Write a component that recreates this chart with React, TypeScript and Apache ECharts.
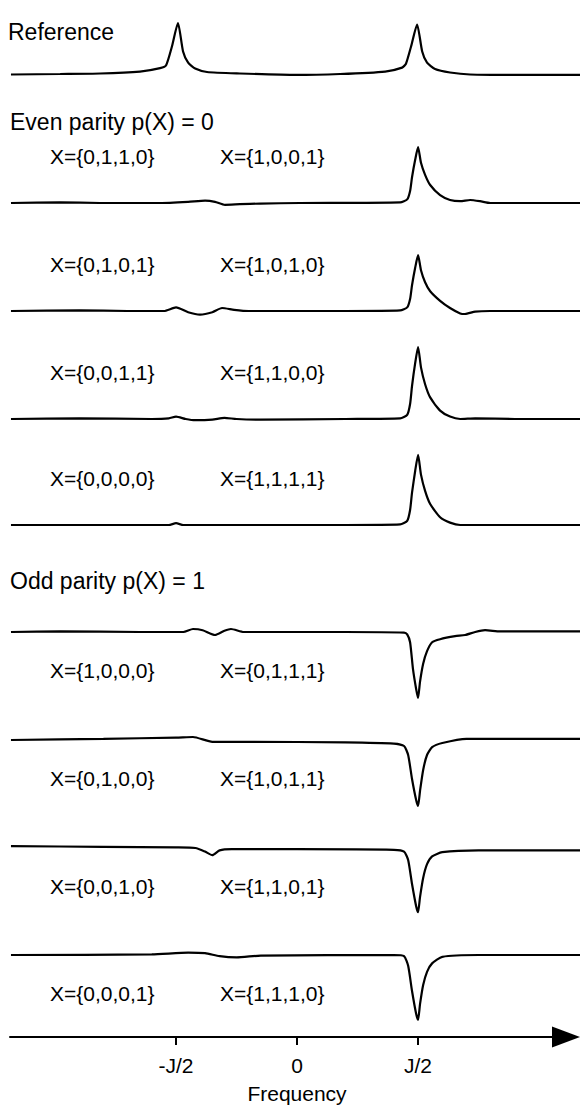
import React, { useEffect, useRef } from "react";
import * as echarts from "echarts";

// frequency in units of J, intensity normalised to the reference peak
const referenceTrace: [number, number][] = [
  [-1.182, -0.02], [-0.979, -0.01], [-0.814, 0.0], [-0.649, 0.04], [-0.566, 0.11], [-0.541, 0.17],
  [-0.517, 0.55], [-0.492, 1.03], [-0.471, 0.45], [-0.45, 0.22], [-0.421, 0.1], [-0.372, 0.03],
  [-0.236, 0.0], [-0.004, -0.03], [0.178, -0.01], [0.364, 0.04], [0.434, 0.12], [0.45, 0.2],
  [0.471, 0.55], [0.496, 1.0], [0.517, 0.45], [0.537, 0.22], [0.57, 0.09], [0.632, 0.02],
  [0.715, -0.02], [0.921, -0.03], [1.169, -0.03],
];

const even1: [number, number][] = [
  [-1.182, 0], [-0.979, 0.01], [-0.814, 0], [-0.566, 0], [-0.45, 0.02], [-0.38, 0.04], [-0.339, 0.02],
  [-0.298, -0.03], [-0.236, -0.02], [-0.153, -0.01], [0.012, 0], [0.426, 0.01], [0.455, 0.06],
  [0.467, 0.2], [0.475, 0.43], [0.488, 0.72], [0.5, 0.93], [0.512, 0.67], [0.529, 0.47], [0.55, 0.3],
  [0.591, 0.13], [0.632, 0.05], [0.674, 0.03], [0.715, 0.05], [0.756, 0.03], [0.798, 0], [1.169, 0],
];

const even2: [number, number][] = [
  [-1.182, 0], [-0.9, 0.01], [-0.7, 0], [-0.55, 0], [-0.5, 0.06], [-0.45, -0.02], [-0.401, -0.06],
  [-0.35, -0.02], [-0.31, 0.05], [-0.26, 0.02], [-0.2, 0], [0.2, 0], [0.426, 0.01], [0.455, 0.06],
  [0.467, 0.2], [0.475, 0.43], [0.488, 0.72], [0.5, 0.93], [0.512, 0.68], [0.529, 0.48], [0.55, 0.33],
  [0.591, 0.17], [0.632, 0.05], [0.674, -0.04], [0.694, -0.05], [0.736, -0.01], [0.798, 0], [1.169, 0],
];

const even3: [number, number][] = [
  [-1.182, 0], [-0.9, 0.01], [-0.6, 0], [-0.53, 0.01], [-0.5, 0.04], [-0.46, 0.0], [-0.42, -0.02],
  [-0.35, -0.01], [-0.3, 0.02], [-0.25, 0.0], [-0.15, -0.01], [0.2, 0], [0.426, 0.01], [0.455, 0.07],
  [0.467, 0.25], [0.475, 0.55], [0.488, 0.93], [0.5, 1.2], [0.512, 0.86], [0.529, 0.58], [0.55, 0.36],
  [0.591, 0.14], [0.632, 0.04], [0.674, 0.0], [0.736, 0.01], [0.9, 0], [1.169, 0],
];

const even4: [number, number][] = [
  [-1.182, 0], [-0.9, 0.0], [-0.6, 0], [-0.53, 0.0], [-0.5, 0.03], [-0.47, 0.0], [-0.3, 0.0],
  [0.2, 0], [0.426, 0.01], [0.455, 0.07], [0.467, 0.25], [0.475, 0.54], [0.488, 0.9], [0.5, 1.17],
  [0.512, 0.84], [0.529, 0.57], [0.55, 0.35], [0.591, 0.13], [0.632, 0.04], [0.674, 0.0], [1.169, 0],
];

const odd1: [number, number][] = [
  [-1.182, 0], [-0.979, 0.01], [-0.649, 0], [-0.47, 0], [-0.43, 0.05], [-0.39, 0.03], [-0.339, -0.05],
  [-0.3, 0.02], [-0.273, 0.05], [-0.22, 0.0], [0.2, 0.0], [0.442, -0.01], [0.455, -0.04], [0.467, -0.17],
  [0.479, -0.62], [0.492, -0.95], [0.5, -1.1], [0.508, -0.83], [0.521, -0.53], [0.537, -0.32],
  [0.558, -0.17], [0.591, -0.12], [0.653, -0.07], [0.694, -0.05], [0.736, 0], [0.777, 0.03],
  [0.839, 0.01], [1.169, 0.01],
];

const odd2: [number, number][] = [
  [-1.182, 0], [-0.8, 0.02], [-0.5, 0.04], [-0.43, 0.05], [-0.35, -0.03], [-0.2, -0.03], [0.2, -0.04],
  [0.4, -0.06], [0.442, -0.1], [0.459, -0.25], [0.475, -0.65], [0.492, -1.0], [0.5, -1.1],
  [0.508, -0.85], [0.521, -0.5], [0.537, -0.25], [0.558, -0.12], [0.6, -0.05], [0.7, 0.02],
  [0.9, 0.02], [1.169, 0.02],
];

const odd3: [number, number][] = [
  [-1.182, 0.03], [-0.8, 0.02], [-0.5, 0.01], [-0.42, 0.0], [-0.38, -0.06], [-0.35, -0.12],
  [-0.32, -0.04], [-0.27, -0.02], [0, -0.02], [0.4, -0.03], [0.442, -0.06], [0.459, -0.2],
  [0.475, -0.6], [0.492, -0.97], [0.5, -1.07], [0.508, -0.82], [0.521, -0.5], [0.537, -0.27],
  [0.558, -0.14], [0.6, -0.07], [0.75, -0.04], [1.169, -0.04],
];

const odd4: [number, number][] = [
  [-1.182, 0], [-0.6, 0.01], [-0.45, 0.04], [-0.38, 0.03], [-0.32, -0.02], [-0.25, -0.04],
  [-0.15, -0.01], [0.4, 0], [0.442, -0.02], [0.459, -0.18], [0.475, -0.6], [0.492, -0.98],
  [0.5, -1.08], [0.508, -0.82], [0.521, -0.5], [0.537, -0.28], [0.558, -0.14], [0.6, -0.03],
  [0.75, 0], [1.169, 0],
];

const traces = [referenceTrace, even1, even2, even3, even4, odd1, odd2, odd3, odd4];
const traceSign = [1, 1, 1, 1, 1, -1, -1, -1, -1];
const traceBaseline = [68, 203, 311, 419, 525, 632, 740, 848, 955];

const evenLabels: [string, string][] = [
  ["X={0,1,1,0}", "X={1,0,0,1}"],
  ["X={0,1,0,1}", "X={1,0,1,0}"],
  ["X={0,0,1,1}", "X={1,1,0,0}"],
  ["X={0,0,0,0}", "X={1,1,1,1}"],
];
const oddLabels: [string, string][] = [
  ["X={1,0,0,0}", "X={0,1,1,1}"],
  ["X={0,1,0,0}", "X={1,0,1,1}"],
  ["X={0,0,1,0}", "X={1,1,0,1}"],
  ["X={0,0,0,1}", "X={1,1,1,0}"],
];
const tickValues = [-0.5, 0, 0.5];
const tickLabels = ["-J/2", "0", "J/2"];

const FONT = "'Liberation Sans', Arial, Helvetica, sans-serif";

export default function App() {
  const ref = useRef<HTMLDivElement>(null);
  useEffect(() => {
    if (!ref.current) return;
    const chart = echarts.init(ref.current, undefined, { renderer: "svg" });
    const X_MIN = -1.186;
    const X_MAX = 1.169;
    const grids: any[] = [];
    const xAxes: any[] = [];
    const yAxes: any[] = [];
    const series: any[] = [];
    traces.forEach((tr, i) => {
      const b = traceBaseline[i];
      const pos = traceSign[i] > 0;
      grids.push({ left: 10, width: 570, top: pos ? b - 90 : b - 30, height: 120 });
      xAxes.push({ type: "value", gridIndex: i, min: X_MIN, max: X_MAX, show: false });
      yAxes.push({
        type: "value", gridIndex: i, min: pos ? -0.5 : -1.5, max: pos ? 1.5 : 0.5, show: false,
      });
      series.push({
        type: "line", xAxisIndex: i, yAxisIndex: i, data: tr, symbol: "none", showSymbol: false,
        smooth: 0.2, lineStyle: { color: "#000", width: 2.2 }, silent: true,
      });
    });
    const ai = traces.length;
    grids.push({ left: 10, width: 556, top: 1017, height: 20 });
    xAxes.push({
      type: "value", gridIndex: ai, min: X_MIN, max: (566 - 297) / 242, position: "bottom",
      axisLine: {
        show: true, onZero: false, symbol: ["none", "triangle"], symbolSize: [21, 28],
        lineStyle: { color: "#000", width: 2 },
      },
      axisTick: { show: true, customValues: tickValues, length: 8, lineStyle: { color: "#000", width: 2 } },
      axisLabel: {
        show: true, customValues: tickValues, margin: 18, color: "#000", fontSize: 21, fontFamily: FONT,
        formatter: (v: number) => {
          const k = tickValues.findIndex((t) => Math.abs(t - v) < 1e-6);
          return k >= 0 ? tickLabels[k] : "";
        },
      },
      splitLine: { show: false },
    });
    yAxes.push({ type: "value", gridIndex: ai, show: false, min: 0, max: 1 });

    const txt = (text: string, x: number, y: number, size: number, align = "left") => ({
      type: "text", x, y, silent: true,
      style: { text, fill: "#000", fontSize: size, fontFamily: FONT, align, verticalAlign: "middle" },
    });
    const graphics: any[] = [
      txt("Reference", 8, 32, 23),
      txt("Even parity p(X) = 0", 10, 122, 23),
      txt("Odd parity p(X) = 1", 10, 581, 23),
      txt("Frequency", 297, 1093, 21, "center"),
    ];
    evenLabels.forEach((pair, k) => {
      const y = traceBaseline[k + 1] - 47;
      graphics.push(txt(pair[0], 50, y, 21));
      graphics.push(txt(pair[1], 220, y, 21));
    });
    oddLabels.forEach((pair, k) => {
      const y = traceBaseline[k + 5] + 38;
      graphics.push(txt(pair[0], 50, y, 21));
      graphics.push(txt(pair[1], 220, y, 21));
    });

    chart.setOption({
      animation: false,
      backgroundColor: "#fff",
      grid: grids,
      xAxis: xAxes,
      yAxis: yAxes,
      series,
      graphic: graphics,
    });
    return () => chart.dispose();
  }, []);
  return (
    <div
      ref={ref}
      style={{ position: "absolute", left: 0, top: 0, width: 581, height: 1107, background: "#fff" }}
    />
  );
}
